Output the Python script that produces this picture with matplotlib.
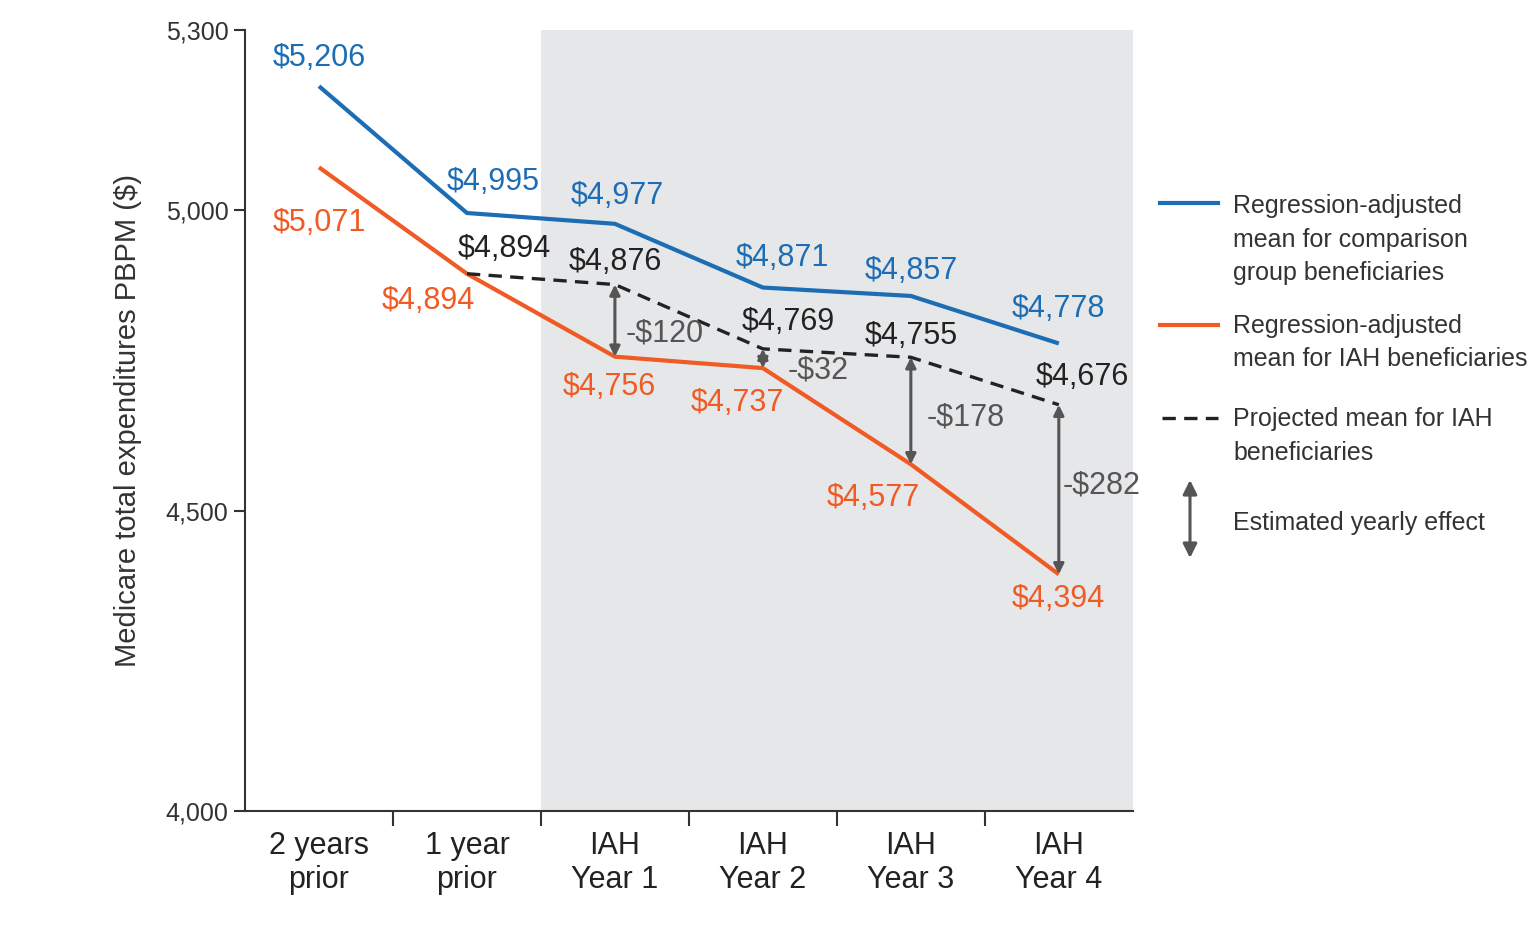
import matplotlib
matplotlib.use("Agg")
import matplotlib.pyplot as plt
from matplotlib.lines import Line2D
from matplotlib.patches import FancyArrowPatch

plt.rcParams['font.family'] = ['Liberation Sans Narrow', 'Liberation Sans', 'DejaVu Sans']

categories = ['2 years\nprior', '1 year\nprior', 'IAH\nYear 1', 'IAH\nYear 2', 'IAH\nYear 3', 'IAH\nYear 4']
comparison = [5206, 4995, 4977, 4871, 4857, 4778]
iah = [5071, 4894, 4756, 4737, 4577, 4394]
projected_x = [1, 2, 3, 4, 5]
projected = [4894, 4876, 4769, 4755, 4676]
effect_x = [2, 3, 4, 5]
effect = [-120, -32, -178, -282]
y_ticks = [4000, 4500, 5000, 5300]

BLUE = '#1c6db4'
ORANGE = '#f05a24'
BLACK = '#222222'
GRAY = '#555555'

# label offsets in points (dx, dy) relative to each point
blue_off = [(0, 20), (19, 22), (2, 20), (14, 21), (0, 18), (0, 25)]
orange_off = [(0, -40), (-28, -20), (-4, -22), (-18, -25), (-27, -24), (0, -18)]
black_off = [(27, 18), (0, 16), (18, 19), (0, 15), (17, 20)]
effect_txt_off = [(8, -9), (18, -9), (11, -5), (3, 3)]

ARROW = '<|-|>,head_length=0.6,head_width=0.3'

fig = plt.figure(figsize=(15.36, 9.27), dpi=100)
ax = fig.add_axes([0.1595, 0.125, 0.578, 0.843])

x = list(range(len(categories)))
ax.axvspan(1.5, 5.5, color='#e6e7e9', lw=0, zorder=0)
ax.plot(x, comparison, color=BLUE, lw=3, zorder=3, solid_capstyle='butt')
ax.plot(x, iah, color=ORANGE, lw=3, zorder=3, solid_capstyle='butt')
ax.plot(projected_x, projected, color=BLACK, lw=2.4, ls=(0, (4, 2.5)), zorder=3)

def fmt(v):
    return '${:,}'.format(v) if v >= 0 else '-${:,}'.format(-v)

for xi, v, off in zip(x, comparison, blue_off):
    ax.annotate(fmt(v), (xi, v), xytext=off, textcoords='offset points',
                ha='center', va='center', color=BLUE, fontsize=22)
for xi, v, off in zip(x, iah, orange_off):
    ax.annotate(fmt(v), (xi, v), xytext=off, textcoords='offset points',
                ha='center', va='center', color=ORANGE, fontsize=22)
for xi, v, off in zip(projected_x, projected, black_off):
    ax.annotate(fmt(v), (xi, v), xytext=off, textcoords='offset points',
                ha='center', va='center', color=BLACK, fontsize=22)

for xi, e, off in zip(effect_x, effect, effect_txt_off):
    top = projected[projected_x.index(xi)]
    bot = iah[xi]
    ax.annotate('', xy=(xi, bot), xytext=(xi, top),
                arrowprops=dict(arrowstyle=ARROW, color=GRAY, lw=2.2,
                                shrinkA=0, shrinkB=0), zorder=4)
    ax.annotate(fmt(e), (xi, (top + bot) / 2), xytext=off, textcoords='offset points',
                ha='left', va='center', color=GRAY, fontsize=22)

ax.set_xlim(-0.5, 5.5)
ax.set_ylim(4000, 5300)
ax.set_xticks(x)
ax.set_xticklabels(categories, fontsize=22, color='#222222', linespacing=1.2)
ax.set_xticks([0.5, 1.5, 2.5, 3.5, 4.5], minor=True)
ax.tick_params(axis='x', which='major', length=0, pad=14)
ax.tick_params(axis='x', which='minor', length=11, width=1.5, color='#333333')
ax.set_yticks(y_ticks)
ax.set_yticklabels(['{:,}'.format(t) for t in y_ticks], fontsize=18, color='#333333')
ax.tick_params(axis='y', length=8, width=1.5, color='#333333', pad=4)
ax.set_ylabel('Medicare total expenditures PBPM ($)', fontsize=21, color='#333333', labelpad=17)
for s in ['top', 'right']:
    ax.spines[s].set_visible(False)
for s in ['left', 'bottom']:
    ax.spines[s].set_linewidth(1.5)
    ax.spines[s].set_color('#333333')

# legend drawn beside the axes
W, H = 1536.0, 927.0
def fx(px):
    return px / W
def fy(py):
    return 1 - py / H

leg_fs = 18
fig.add_artist(Line2D([fx(1160), fx(1218)], [fy(203), fy(203)], color=BLUE, lw=3))
fig.text(fx(1233), fy(194), 'Regression-adjusted\nmean for comparison\ngroup beneficiaries',
         fontsize=leg_fs, color='#333333', va='top', ha='left', linespacing=1.5)
fig.add_artist(Line2D([fx(1160), fx(1218)], [fy(325), fy(325)], color=ORANGE, lw=3))
fig.text(fx(1233), fy(314), 'Regression-adjusted\nmean for IAH beneficiaries',
         fontsize=leg_fs, color='#333333', va='top', ha='left', linespacing=1.5)
fig.add_artist(Line2D([fx(1162), fx(1218)], [fy(418), fy(418)], color=BLACK, lw=2.4,
                      ls=(0, (4, 2.5))))
fig.text(fx(1233), fy(407), 'Projected mean for IAH\nbeneficiaries',
         fontsize=leg_fs, color='#333333', va='top', ha='left', linespacing=1.5)
fig.add_artist(FancyArrowPatch((fx(1190), fy(480)), (fx(1190), fy(558)),
                               transform=fig.transFigure, mutation_scale=14,
                               arrowstyle=ARROW, color=GRAY, lw=2.2,
                               shrinkA=0, shrinkB=0))
fig.text(fx(1233), fy(523), 'Estimated yearly effect',
         fontsize=leg_fs, color='#333333', va='center', ha='left')

fig.savefig('out.png', dpi=100)
